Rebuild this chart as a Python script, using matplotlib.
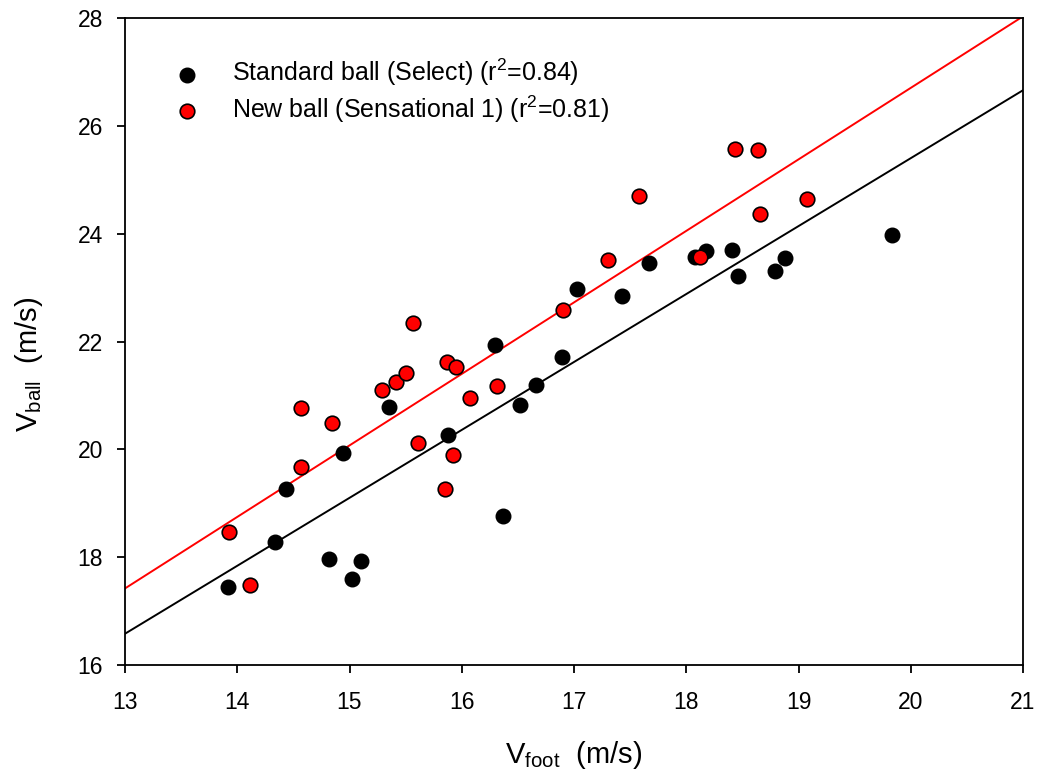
import matplotlib
matplotlib.use("Agg")
import matplotlib.pyplot as plt
import numpy as np

# Data
std_foot = [13.92, 14.34, 14.43, 14.82, 15.02, 15.10, 14.94, 15.35, 15.88, 16.30, 16.37, 16.52,
            16.66, 16.89, 17.03, 17.43, 17.67, 18.08, 18.18, 18.41, 18.46, 18.79, 18.88, 19.83]
std_ball = [17.45, 18.29, 19.27, 17.97, 17.60, 17.93, 19.94, 20.78, 20.27, 21.94, 18.76, 20.82,
            21.20, 21.72, 22.98, 22.84, 23.45, 23.57, 23.67, 23.69, 23.22, 23.31, 23.55, 23.97]

new_foot = [13.93, 14.11, 14.57, 14.57, 14.84, 15.29, 15.41, 15.50, 15.57, 15.61, 15.87, 15.95,
            15.92, 15.85, 16.07, 16.31, 16.90, 17.30, 17.58, 18.12, 18.43, 18.64, 18.66, 19.08]
new_ball = [18.46, 17.48, 19.68, 20.77, 20.49, 21.10, 21.25, 21.41, 22.35, 20.11, 21.62, 21.53,
            19.90, 19.26, 20.95, 21.17, 22.58, 23.51, 24.70, 23.57, 25.57, 25.55, 24.37, 24.65]

fit_x = [13, 21]
std_fit = [16.58, 26.66]
new_fit = [17.42, 28.03]

labels = ["Standard ball (Select) (r$^2$=0.84)", "New ball (Sensational 1) (r$^2$=0.81)"]
xticks = [13, 14, 15, 16, 17, 18, 19, 20, 21]
yticks = [16, 18, 20, 22, 24, 26, 28]

plt.rcParams['font.family'] = ['Liberation Sans', 'DejaVu Sans']
plt.rcParams['mathtext.fontset'] = 'custom'
plt.rcParams['mathtext.rm'] = 'Liberation Sans'
plt.rcParams['mathtext.it'] = 'Liberation Sans'
plt.rcParams['mathtext.default'] = 'regular'

fig = plt.figure(figsize=(10.40, 7.77), dpi=100)
ax = fig.add_axes([125/1040, 1 - 665/777, (1023-125)/1040, (665-18)/777])

ax.plot(fit_x, std_fit, color='black', lw=1.4, zorder=2)
ax.plot(fit_x, new_fit, color='red', lw=1.4, zorder=2)

ax.scatter(std_foot, std_ball, s=110, c='black', edgecolors='black', linewidths=1.0, zorder=3, label=labels[0])
ax.scatter(new_foot, new_ball, s=110, c='red', edgecolors='black', linewidths=1.2, zorder=4, label=labels[1])

ax.set_xlim(13, 21)
ax.set_ylim(16, 28)
ax.set_xticks(xticks)
ax.set_yticks(yticks)
ax.tick_params(direction='out', length=6, width=1.3, labelsize=16.5)
ax.tick_params(axis='x', pad=13)
ax.tick_params(axis='y', pad=10)
for sp in ax.spines.values():
    sp.set_linewidth(1.3)

ax.set_xlabel('V$_{foot}$  (m/s)', fontsize=21, labelpad=18)
ax.set_ylabel('V$_{ball}$  (m/s)', fontsize=21)
ax.yaxis.set_label_coords(-0.089, 0.465)

leg = ax.legend(loc='upper left', bbox_to_anchor=(0.041, 0.940), frameon=False, fontsize=18,
                handletextpad=0.8, labelspacing=0.2, borderaxespad=0, borderpad=0,
                scatterpoints=1, markerscale=1.0)

fig.savefig('out.png', dpi=100)
